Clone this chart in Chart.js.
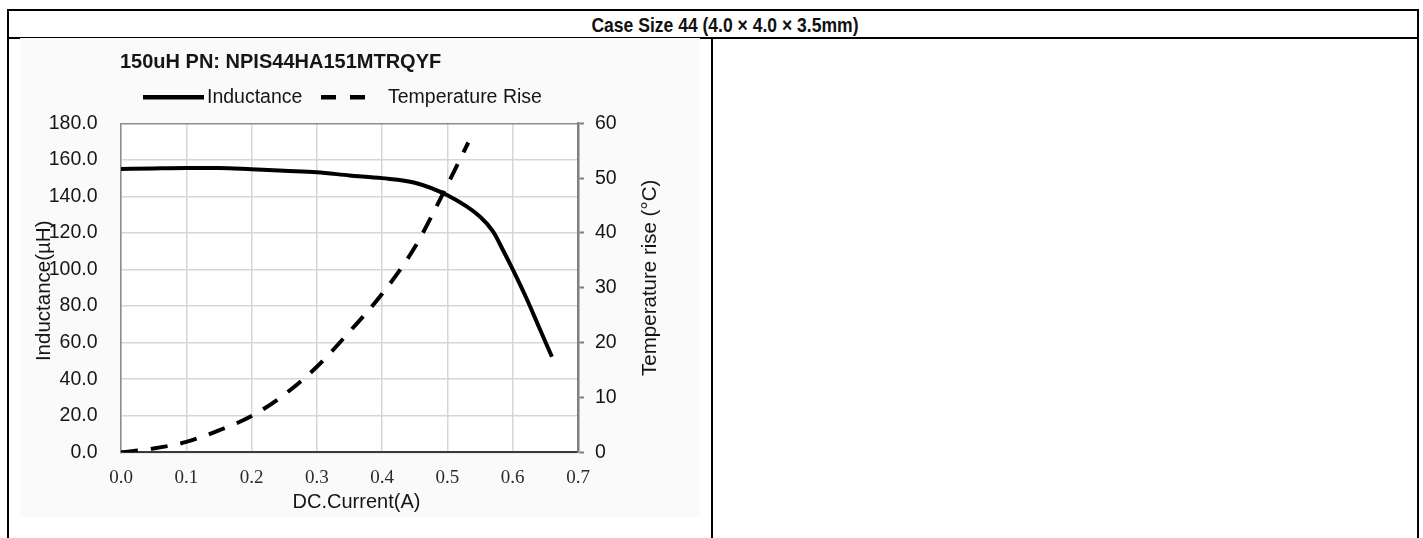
<!DOCTYPE html>
<html>
<head>
<meta charset="utf-8">
<script src="https://cdn.jsdelivr.net/npm/chart.js@4.4.1/dist/chart.umd.min.js"></script>
<style>
  html, body { margin: 0; padding: 0; background: #fff; width: 1423px; height: 538px; overflow: hidden; }
  .rule { position: absolute; background: #000; }
  #head { position: absolute; left: 0; top: 14px; width: 1449px; text-align: center;
          font: bold 21px "Liberation Sans", Arial, sans-serif; line-height: 21px; color: #111; white-space: nowrap; }
  #head span { display: inline-block; transform: scaleX(0.835); transform-origin: center; }
  #box { position: absolute; left: 20px; top: 38px; width: 680px; height: 479px; background: #fafafa; }
  #c { display: block; }
</style>
</head>
<body>
<!-- table frame -->
<div class="rule" style="left:7px;top:9px;width:1412px;height:2px"></div>
<div class="rule" style="left:7px;top:37px;width:1412px;height:2px"></div>
<div class="rule" style="left:7px;top:9px;width:2px;height:529px"></div>
<div class="rule" style="left:711px;top:37px;width:2px;height:501px"></div>
<div class="rule" style="left:1417px;top:9px;width:2px;height:529px"></div>
<div id="head"><span>Case Size 44 (4.0 × 4.0 × 3.5mm)</span></div>

<div id="box"><canvas id="c" width="680" height="479"></canvas></div>

<script>
// Inductance vs DC current (A -> µH)
const currents   = [0, 0.05, 0.1, 0.15, 0.2, 0.25, 0.3, 0.35, 0.4, 0.45, 0.5, 0.55, 0.57, 0.585, 0.6, 0.62, 0.64, 0.66];
const inductance = [155.0, 155.3, 155.5, 155.5, 154.8, 154.0, 153.2, 151.5, 150.0, 147.5, 140.6, 128.9, 120.7, 110.7, 100.1, 85.1, 68.7, 52.3];

// Temperature rise vs DC current (A -> °C)
const tempCurrents = [0, 0.05, 0.1, 0.15, 0.2, 0.25, 0.3, 0.35, 0.4, 0.45, 0.5, 0.532];
const tempRise     = [0, 0.7, 1.9, 4.0, 6.6, 10.5, 15.6, 22.0, 28.9, 37.4, 48.8, 56.5];

const chartTitle   = '150uH PN: NPIS44HA151MTRQYF';
const seriesNames  = ['Inductance', 'Temperature Rise'];
const xAxisTitle   = 'DC.Current(A)';
const yAxisTitle   = 'Inductance(µH)';
const y2AxisTitle  = 'Temperature rise (°C)';

const SANS = '"Liberation Sans", Arial, sans-serif';
const SERIF = '"Liberation Serif", "Times New Roman", serif';
const INK = '#151515';

const toPoints = (xs, ys) => xs.map((x, i) => ({ x: x, y: ys[i] }));

// Plot background, title, legend and axis titles
const decorations = {
  id: 'decorations',
  beforeDraw(chart) {
    const { ctx, chartArea: a } = chart;
    ctx.save();
    ctx.fillStyle = '#ffffff';
    ctx.fillRect(a.left, a.top, a.right - a.left, a.bottom - a.top);
    ctx.restore();
  },
  afterDraw(chart) {
    const { ctx, chartArea: a } = chart;
    const sets = chart.data.datasets;
    ctx.save();
    ctx.fillStyle = INK;
    ctx.textBaseline = 'middle';

    // title
    ctx.font = 'bold 20px ' + SANS;
    ctx.textAlign = 'left';
    ctx.fillText(chartTitle, 100, 24);

    // legend
    const ly = 59.3;
    ctx.font = '19.5px ' + SANS;
    ctx.strokeStyle = sets[0].borderColor;
    ctx.lineWidth = 4.5;
    ctx.beginPath(); ctx.moveTo(123, ly); ctx.lineTo(184, ly); ctx.stroke();
    ctx.fillText(sets[0].label, 187, ly + 0.5);
    ctx.strokeStyle = sets[1].borderColor;
    ctx.beginPath();
    ctx.moveTo(301, ly); ctx.lineTo(316, ly);
    ctx.moveTo(330, ly); ctx.lineTo(345, ly);
    ctx.stroke();
    ctx.fillText(sets[1].label, 368, ly + 0.5);

    // x axis title
    ctx.font = '20px ' + SANS;
    ctx.textAlign = 'center';
    ctx.fillText(xAxisTitle, (a.left + a.right) / 2 + 7, 464);

    // left axis title (drawn across the tick labels)
    ctx.save();
    ctx.translate(24, (a.top + a.bottom) / 2 + 3);
    ctx.rotate(-Math.PI / 2);
    ctx.font = '20.5px ' + SANS;
    ctx.fillText(yAxisTitle, 0, 0);
    ctx.restore();

    // right axis title, reading upward
    ctx.save();
    ctx.translate(630, (a.top + a.bottom) / 2 - 10);
    ctx.rotate(-Math.PI / 2);
    ctx.font = '20.5px ' + SANS;
    ctx.fillText(y2AxisTitle, 0, 0);
    ctx.restore();

    ctx.restore();
  }
};

new Chart(document.getElementById('c'), {
  type: 'line',
  data: {
    datasets: [
      {
        label: seriesNames[0],
        data: toPoints(currents, inductance),
        yAxisID: 'y',
        borderColor: '#000000',
        borderWidth: 4,
        pointRadius: 0,
        cubicInterpolationMode: 'monotone',
        fill: false
      },
      {
        label: seriesNames[1],
        data: toPoints(tempCurrents, tempRise),
        yAxisID: 'y2',
        borderColor: '#000000',
        borderWidth: 4,
        borderDash: [17, 13],
        pointRadius: 0,
        cubicInterpolationMode: 'monotone',
        fill: false
      }
    ]
  },
  options: {
    responsive: false,
    animation: false,
    devicePixelRatio: 1,
    layout: { padding: { top: 85.3, left: 0, right: 0, bottom: 0 } },
    plugins: { legend: { display: false }, title: { display: false }, tooltip: { enabled: false } },
    scales: {
      x: {
        type: 'linear',
        min: 0,
        max: 0.7,
        afterFit: (s) => { s.height = 64.7; },
        ticks: {
          stepSize: 0.1,
          autoSkip: false,
          maxRotation: 0,
          padding: 14,
          color: '#2a2a2a',
          font: { family: SERIF, size: 19 },
          callback: (v) => Number(v).toFixed(1)
        },
        grid: { color: '#d6d6d6', lineWidth: 1.5, drawTicks: false },
        border: { color: '#3a3a3a', width: 2 }
      },
      y: {
        type: 'linear',
        position: 'left',
        min: 0,
        max: 180,
        afterFit: (s) => { s.width = 101; },
        ticks: {
          stepSize: 20,
          padding: 23.5,
          color: INK,
          font: { family: SANS, size: 19.5 },
          callback: (v) => Number(v).toFixed(1)
        },
        grid: {
          drawTicks: false,
          lineWidth: 1.5,
          color: (c) => (c.tick && c.tick.value === 180 ? '#8c8c8c' : '#d6d6d6')
        },
        border: { color: '#8c8c8c', width: 1.5 }
      },
      y2: {
        type: 'linear',
        position: 'right',
        min: 0,
        max: 60,
        afterFit: (s) => { s.width = 122; },
        ticks: {
          stepSize: 10,
          padding: 11,
          color: INK,
          font: { family: SANS, size: 19.5 }
        },
        grid: {
          drawOnChartArea: false,
          drawTicks: true,
          tickLength: 6,
          tickWidth: 2,
          tickColor: '#7f7f7f'
        },
        border: { color: '#7f7f7f', width: 2.5 }
      }
    }
  },
  plugins: [decorations]
});
</script>
</body>
</html>
